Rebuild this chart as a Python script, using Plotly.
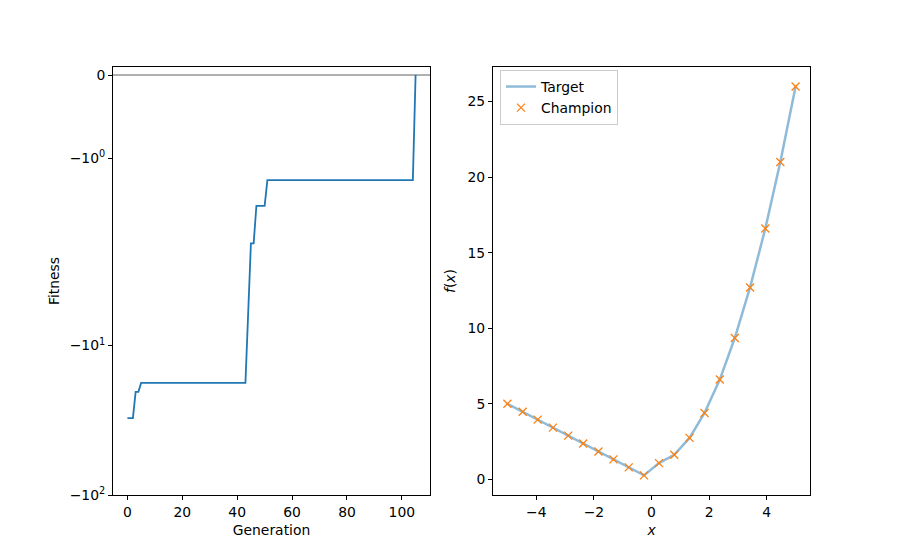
import numpy as np
import plotly.graph_objects as go

# ---- data ----
gen_pts = [0, 2, 3, 4, 5, 43, 45, 46, 47, 50, 51, 104, 105]
fitness_pts = [-30.6, -30.6, -20.4, -20.4, -17.8, -17.8, -2.07, -2.07, -1.575, -1.575, -1.265, -1.265, 0.0]

fit_tick_vals = [0, -1, -10, -100]
fit_tick_text = ["0", "\u221210<sup>0</sup>", "\u221210<sup>1</sup>", "\u221210<sup>2</sup>"]

x_vals = [-5.0, -4.47, -3.95, -3.42, -2.89, -2.37, -1.84, -1.32, -0.79, -0.26,
          0.26, 0.79, 1.32, 1.84, 2.37, 2.89, 3.42, 3.95, 4.47, 5.0]
target_vals = [5.0, 4.47, 3.95, 3.42, 2.89, 2.37, 1.84, 1.32, 0.79, 0.26,
               1.07, 1.62, 2.74, 4.39, 6.6, 9.35, 12.7, 16.6, 21.0, 26.0]
champion_vals = [5.0, 4.47, 3.95, 3.42, 2.89, 2.37, 1.84, 1.32, 0.79, 0.26,
                 1.07, 1.62, 2.74, 4.39, 6.6, 9.35, 12.7, 16.6, 21.0, 26.0]

# ---- symlog transform (matplotlib style, linthresh=2, base 10, linscale=1) ----
LINTHRESH = 2.0
LINSCALE_ADJ = 1.0 / (1.0 - 1.0 / 10.0)


def symlog(v):
    a = np.asarray(v, dtype=float)
    absa = np.abs(a)
    with np.errstate(divide="ignore", invalid="ignore"):
        out = np.sign(a) * LINTHRESH * (LINSCALE_ADJ + np.log10(absa / LINTHRESH))
    inside = absa <= LINTHRESH
    out[inside] = a[inside] * LINSCALE_ADJ
    return out


FONT = "DejaVu Sans"
FS = 13.9
H_EFF = 548.0  # effective rendered paper height

fig = go.Figure()

# gray zero line
fig.add_shape(type="line", xref="x domain", yref="y", x0=0, x1=1,
              y0=float(symlog([0])[0]), y1=float(symlog([0])[0]),
              line=dict(color="#b0b0b0", width=2), layer="below")

fig.add_trace(go.Scatter(x=gen_pts, y=symlog(fitness_pts), mode="lines",
                         line=dict(color="#1f77b4", width=1.8),
                         showlegend=False, xaxis="x", yaxis="y",
                         hoverinfo="skip"))

fig.add_trace(go.Scatter(x=x_vals, y=target_vals, mode="lines", name="Target",
                         line=dict(color="rgba(31,119,180,0.5)", width=2.5),
                         xaxis="x2", yaxis="y2"))
fig.add_trace(go.Scatter(x=x_vals, y=champion_vals, mode="markers", name="Champion",
                         marker=dict(symbol="x-thin", size=8, color="#ff7f0e",
                                     line=dict(color="#ff7f0e", width=1.3)),
                         xaxis="x2", yaxis="y2"))

axis_common = dict(showline=True, linecolor="black", linewidth=1, mirror=True,
                   ticks="outside", ticklen=4, tickwidth=1, tickcolor="black",
                   showgrid=False, zeroline=False,
                   tickfont=dict(family=FONT, size=FS, color="black"))

ytop = float(symlog([0])[0]) + 0.107
ybot = float(symlog([-100])[0])

ydom = [1 - 495 / H_EFF, 1 - 67 / H_EFF]

fig.update_layout(
    width=900, height=556,
    margin=dict(l=0, r=0, t=0, b=0),
    paper_bgcolor="white", plot_bgcolor="white",
    font=dict(family=FONT, size=FS, color="black"),
    xaxis=dict(domain=[113 / 900, 430 / 900], range=[-5.25, 110.25],
               tickvals=[0, 20, 40, 60, 80, 100],
               title=dict(text="Generation", standoff=6,
                          font=dict(family=FONT, size=FS)),
               anchor="y", **axis_common),
    yaxis=dict(domain=ydom, range=[ybot, ytop],
               tickvals=list(symlog(fit_tick_vals)), ticktext=fit_tick_text,
               title=dict(text="Fitness", standoff=6,
                          font=dict(family=FONT, size=FS)),
               anchor="x", **axis_common),
    xaxis2=dict(domain=[493 / 900, 810 / 900], range=[-5.5, 5.5],
                tickvals=[-4, -2, 0, 2, 4],
                ticktext=["\u22124", "\u22122", "0", "2", "4"],
                title=dict(text="<i>x</i>", standoff=6,
                           font=dict(family=FONT, size=FS)),
                anchor="y2", **axis_common),
    yaxis2=dict(domain=ydom, range=[-1.04, 27.29],
                tickvals=[0, 5, 10, 15, 20, 25],
                title=dict(text="<i>f</i>(<i>x</i>)", standoff=8,
                           font=dict(family=FONT, size=FS)),
                anchor="x2", **axis_common),
    legend=dict(x=500 / 900, y=1 - 70 / H_EFF, xanchor="left", yanchor="top",
                bgcolor="rgba(255,255,255,0.8)", bordercolor="#cccccc",
                borderwidth=1, font=dict(family=FONT, size=FS),
                itemwidth=30, tracegroupgap=2),
)

fig.write_html("out.html")
